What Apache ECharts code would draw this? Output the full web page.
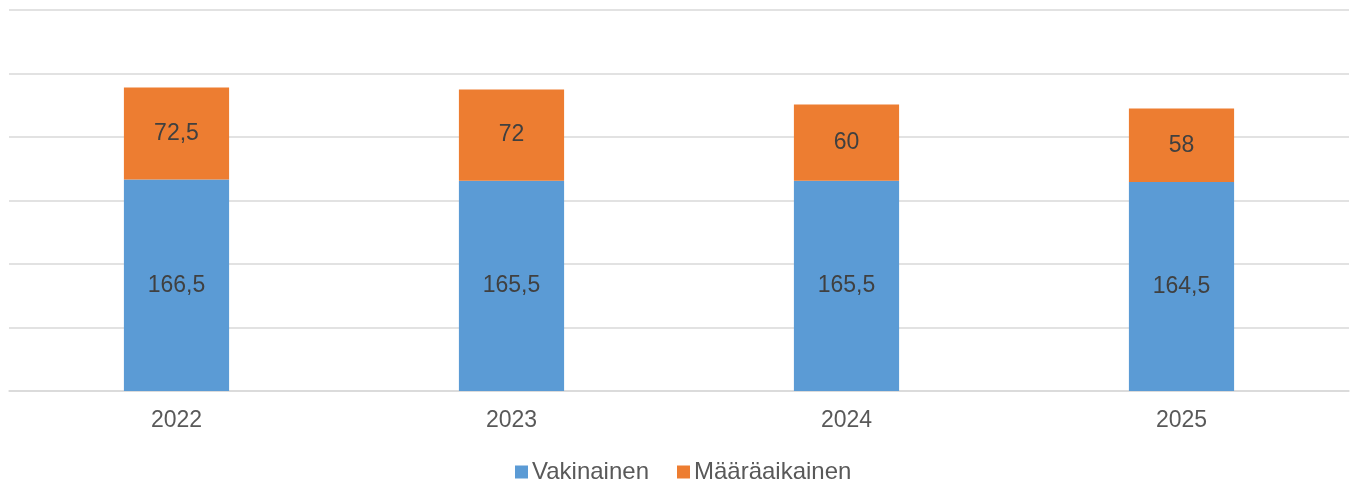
<!DOCTYPE html>
<html>
<head>
<meta charset="utf-8">
<script src="https://cdn.jsdelivr.net/npm/echarts@6/dist/echarts.min.js"></script>
<style>
  html, body { margin: 0; padding: 0; background: #fff; }
  #chart { width: 1352px; height: 488px; }
</style>
</head>
<body>
<div id="chart"></div>
<script>
const years = ['2022', '2023', '2024', '2025'];
const vakinainen = [166.5, 165.5, 165.5, 164.5];
const maaraaikainen = [72.5, 72, 60, 58];
const seriesNames = ['Vakinainen', 'Määräaikainen'];

const fmt = p => String(p.value).replace('.', ',');
const font = '"Liberation Sans", Arial, sans-serif';

const chart = echarts.init(document.getElementById('chart'));
chart.setOption({
  animation: false,
  textStyle: { fontFamily: font },
  grid: { left: 9, right: 3, top: 10, bottom: 97, containLabel: false },
  xAxis: {
    type: 'category',
    data: years,
    axisLine: { lineStyle: { color: '#D9D9D9', width: 1.5 } },
    axisTick: { show: false },
    axisLabel: { color: '#595959', fontSize: 23, margin: 18, fontFamily: font }
  },
  yAxis: {
    type: 'value',
    min: 0, max: 300, interval: 50,
    axisLabel: { show: false },
    axisLine: { show: false },
    axisTick: { show: false },
    splitLine: { lineStyle: { color: '#D9D9D9', width: 1.5 } }
  },
  legend: {
    data: seriesNames,
    bottom: -1,
    left: 510,
    icon: 'rect',
    itemWidth: 13,
    itemHeight: 13,
    itemGap: 28,
    textStyle: { color: '#595959', fontSize: 24, fontFamily: font, padding: [0, 0, 0, -1] }
  },
  series: [
    {
      name: seriesNames[0],
      type: 'bar',
      stack: 'total',
      data: vakinainen,
      barWidth: '31.4%',
      itemStyle: { color: '#5B9BD5' },
      label: { show: true, position: 'inside', formatter: fmt, color: '#404040', fontSize: 23, fontFamily: font }
    },
    {
      name: seriesNames[1],
      type: 'bar',
      stack: 'total',
      data: maaraaikainen,
      barWidth: '31.4%',
      itemStyle: { color: '#ED7D31' },
      label: { show: true, position: 'inside', formatter: fmt, color: '#404040', fontSize: 23, fontFamily: font }
    }
  ]
});
</script>
</body>
</html>
